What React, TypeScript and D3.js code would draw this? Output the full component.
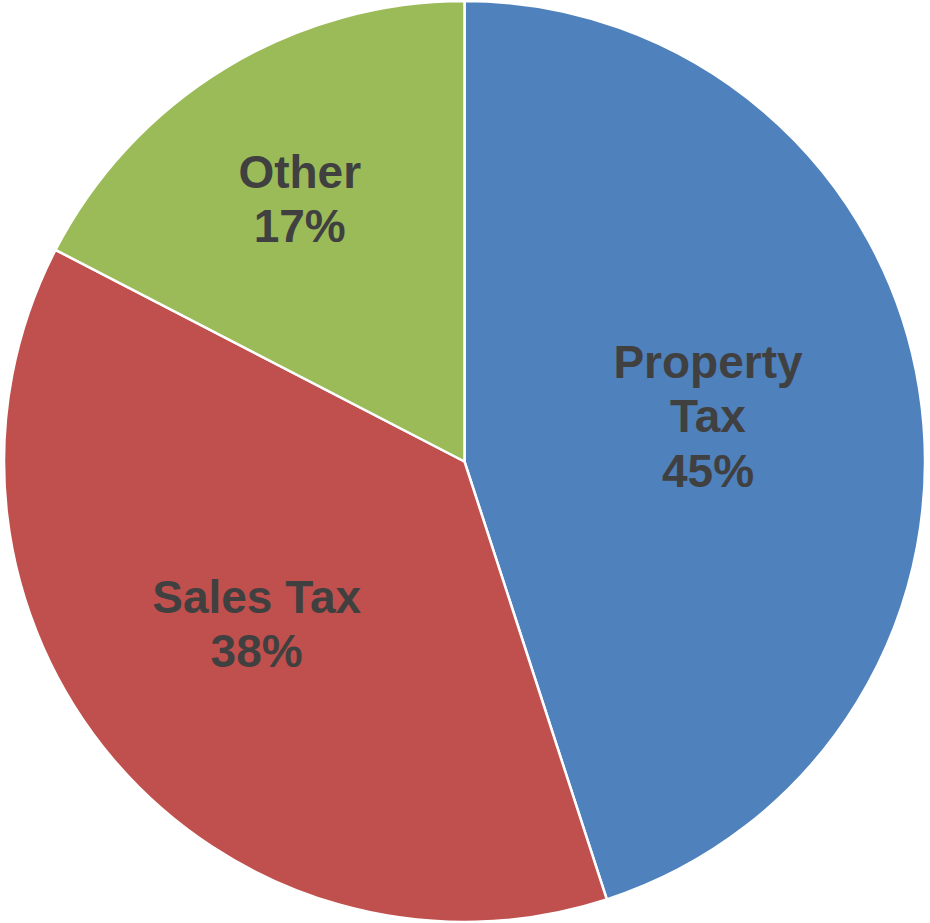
import React from 'react';
import * as d3 from 'd3';

// revenue mix
const categories = ['Property Tax', 'Sales Tax', 'Other'];
const shares = [45.0, 37.6, 17.4];
const labelLines = [['Property', 'Tax'], ['Sales Tax'], ['Other']];
const colors = ['#4F81BD', '#C0504D', '#9BBB59'];

const width = 930;
const height = 923;
const cx = 464.5;
const cy = 461.5;
const radius = 460.5;
const fontSize = 46;
const lineHeight = 54.5;
// where each label sits: fraction of the radius, and a small turn off the slice middle (degrees)
const labelFactors = [0.538, 0.573, 0.673];
const labelNudge = [-1.6, 2.3, -0.8];

const App = () => {
  const pie = d3.pie<number>().sort(null).value(d => d)(shares);
  const arc = d3.arc<d3.PieArcDatum<number>>().innerRadius(0).outerRadius(radius);
  const total = d3.sum(shares);

  return (
    <svg
      width={width}
      height={height}
      style={{ position: 'absolute', left: 0, top: 0, background: '#fff' }}
    >
      <g transform={`translate(${cx},${cy})`}>
        {pie.map((d, i) => (
          <path key={categories[i]} d={arc(d) || ''} fill={colors[i]} stroke="#fff" strokeWidth={2.5} />
        ))}
        {pie.map((d, i) => {
          const r = radius * labelFactors[i];
          const a = (d.startAngle + d.endAngle) / 2 + (labelNudge[i] * Math.PI) / 180;
          const lx = r * Math.sin(a);
          const ly = -r * Math.cos(a);
          const lines = [...labelLines[i], `${Math.round((shares[i] / total) * 100)}%`];
          const first = ly - ((lines.length - 1) / 2) * lineHeight + fontSize * 0.35;
          return (
            <text
              key={'l' + i}
              textAnchor="middle"
              fontFamily="'Liberation Sans', Arial, sans-serif"
              fontWeight="bold"
              fontSize={fontSize}
              fill="#404040"
            >
              {lines.map((t, j) => (
                <tspan key={j} x={lx} y={first + j * lineHeight}>{t}</tspan>
              ))}
            </text>
          );
        })}
      </g>
    </svg>
  );
};

export default App;
